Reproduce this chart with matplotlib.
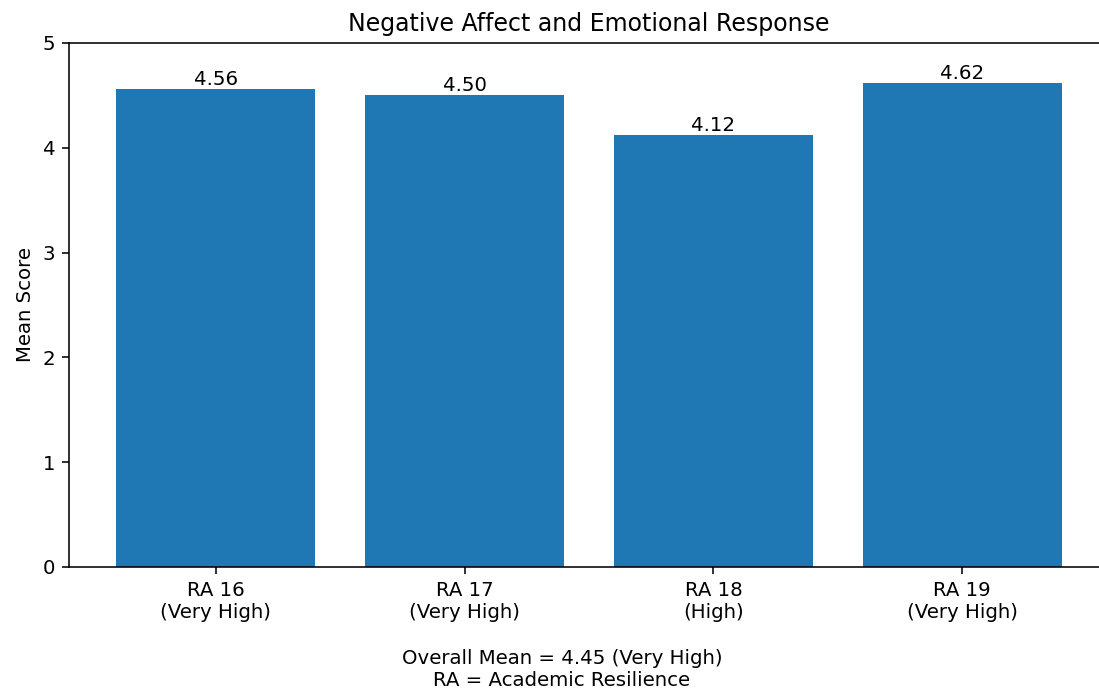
import matplotlib
matplotlib.use("Agg")
import matplotlib.pyplot as plt

categories = ["RA 16\n(Very High)", "RA 17\n(Very High)", "RA 18\n(High)", "RA 19\n(Very High)"]
means = [4.56, 4.50, 4.12, 4.62]
value_labels = ["4.56", "4.50", "4.12", "4.62"]
title = "Negative Affect and Emotional Response"
ylabel = "Mean Score"
caption = "Overall Mean = 4.45 (Very High)\nRA = Academic Resilience"

DPI = 142
W, H = 1099, 691
fig = plt.figure(figsize=(W / DPI, H / DPI), dpi=DPI)
ax = fig.add_axes([69 / W, 124 / H, (1109 - 69) / W, (567 - 43) / H])

x = list(range(len(categories)))
bars = ax.bar(x, means, width=0.8, color="#1f77b4")
for bar, lab in zip(bars, value_labels):
    ax.text(bar.get_x() + bar.get_width() / 2, bar.get_height(), lab,
            ha="center", va="bottom")

ax.set_xticks(x)
ax.set_xticklabels(categories)
ax.set_xlim(-0.59, 3.59)
ax.set_ylim(0, 5)
ax.set_yticks([0, 1, 2, 3, 4, 5])
ax.set_ylabel(ylabel)
ax.set_title(title)

fig.text(562 / W, 0.5 / H, caption, ha="center", va="bottom")

fig.savefig("out.png", dpi=DPI)
